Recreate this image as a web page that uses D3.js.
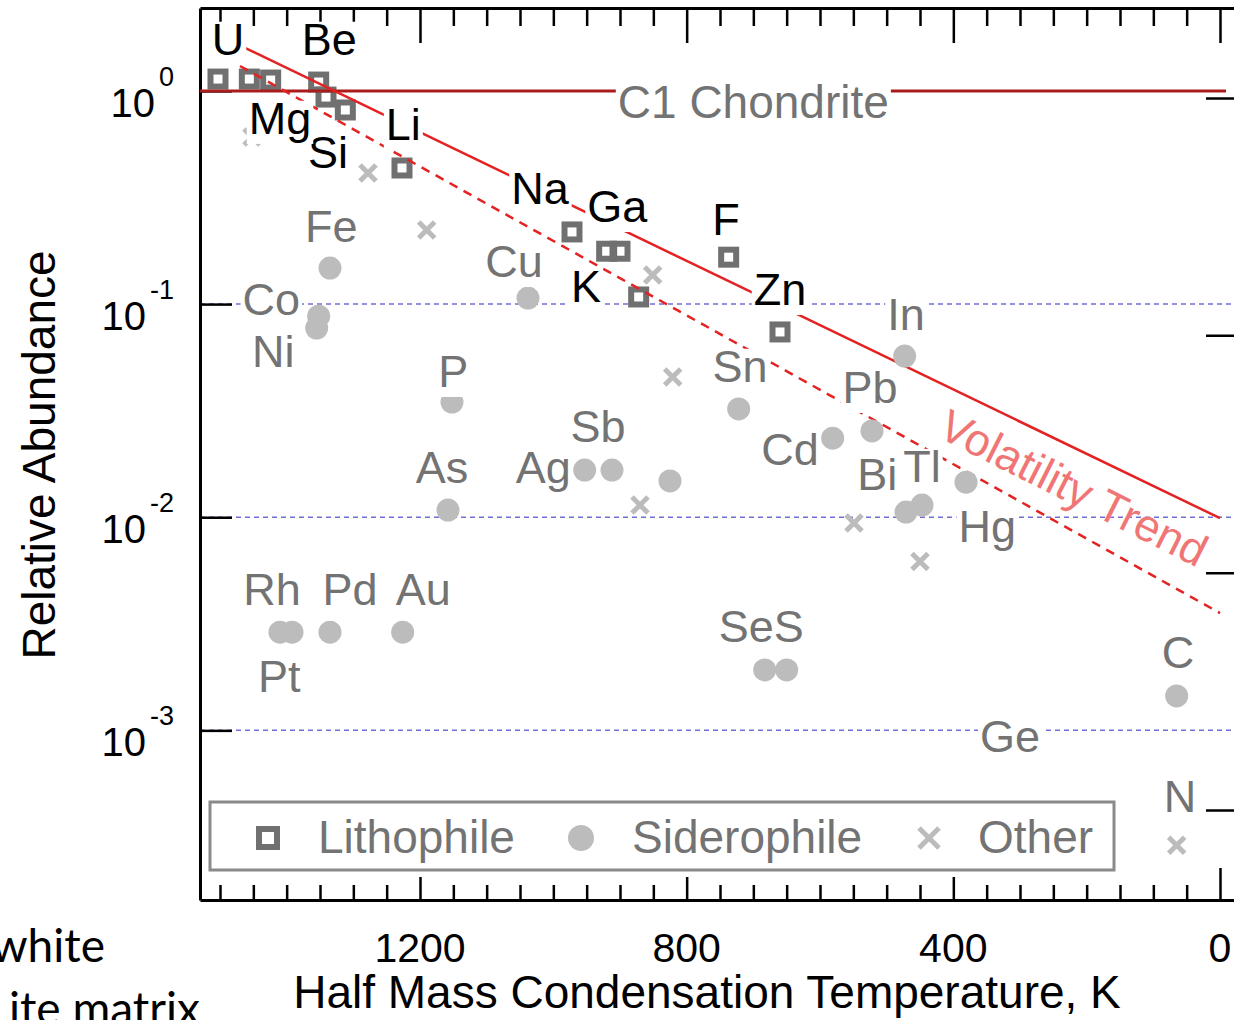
<!DOCTYPE html>
<html>
<head>
<meta charset="utf-8">
<script src="https://cdn.jsdelivr.net/npm/d3@7"></script>
<style>
body { margin: 0; background: #fff; }
svg { display: block; font-family: "Liberation Sans", Arial, Helvetica, sans-serif; }
</style>
</head>
<body>
<svg id="chart" width="1234" height="1020"></svg>
<script>
// half mass condensation temperature (K) and abundance relative to C1 chondrite
var lithoT = [1503, 1456, 1424, 1352, 1341, 1312, 1227, 972, 920, 900, 872, 737, 660];
var lithoV = [1.137, 1.137, 1.125, 1.101, 0.936, 0.814, 0.435, 0.218, 0.177, 0.177, 0.108, 0.166, 0.074];
var sideroT = [1335, 1352, 1355, 1038, 1152, 1158, 953, 912, 825, 722, 581, 522, 473, 471, 447, 381, 1410, 1392, 1335, 1226, 683, 650, 65];
var sideroV = [0.1475, 0.0878, 0.0772, 0.1067, 0.0347, 0.0108, 0.01665, 0.01665, 0.0148, 0.0322, 0.0235, 0.0254, 0.057, 0.01057, 0.0114, 0.0146, 0.00289, 0.00289, 0.00289, 0.00289, 0.00192, 0.00192, 0.00145];
var otherT = [1452, 1278, 1190, 851, 821, 870, 549, 450, 65];
var otherV = [0.608, 0.412, 0.2225, 0.1368, 0.0455, 0.0114, 0.0094, 0.0062, 0.000289];

// element labels: name, temperature, abundance (baseline centre), dark text
var labels = [
  ["U", 1488, 1.474, 1], ["Be", 1336, 1.474, 1], ["Si", 1338, 0.4346, 1], ["Mg", 1410, 0.628, 1],
  ["Li", 1225, 0.588, 1], ["Na", 1020, 0.2945, 1], ["Ga", 904, 0.2425, 1], ["F", 741, 0.2108, 1],
  ["K", 951, 0.1022, 1], ["Zn", 660, 0.0989, 1],
  ["Fe", 1333, 0.1954, 0], ["Co", 1423, 0.0888, 0], ["Ni", 1420, 0.0506, 0], ["Cu", 1059, 0.1338, 0],
  ["P", 1150, 0.0408, 0], ["As", 1167, 0.01445, 0], ["Ag", 1015, 0.01445, 0], ["Sb", 933, 0.02251, 0],
  ["Sn", 720, 0.04305, 0], ["Pb", 525, 0.0343, 0], ["Cd", 645, 0.01755, 0], ["Bi", 514, 0.0134, 0],
  ["Tl", 447, 0.01461, 0], ["In", 471, 0.0755, 0], ["Hg", 349, 0.00764, 0],
  ["Rh", 1422, 0.003869, 0], ["Pd", 1305, 0.003869, 0], ["Au", 1195, 0.003869, 0], ["Pt", 1411, 0.001511, 0],
  ["SeS", 688, 0.002594, 0], ["C", 63, 0.001958, 0], ["Ge", 315, 0.00079, 0], ["N", 60, 0.000413, 0]
];

var chondrite = [[1530, 1], [-9, 1]];
var trendSolid = [[1465, 1.607], [0, 0.0099]];
var trendDashed = [[1470, 1.309], [0, 0.00355]];
var chondriteLabel = ["C1 Chondrite", 700, 0.7454];
var trendLabel = ["Volatility Trend", 230, 0.0118];

var xTicks = d3.range(0, 1501, 50);
var xMajor = [0, 400, 800, 1200];
var yTicks = [1, 0.1, 0.01, 0.001];
var yExp = ["0", "-1", "-2", "-3"];
var gridValues = [0.1, 0.01, 0.001];
var rightTicks = [0, 1, 2, 3];
var legendNames = ["Lithophile", "Siderophile", "Other"];

var svg = d3.select("#chart");
var x = d3.scaleLinear().domain([1530, -30]).range([200, 1240]);
var y = d3.scaleLog().domain([1.6e-4, 2.45]).range([900, 8]);
var yRight = d3.scaleLinear().domain([0, 3]).range([98, 810]);

var grey = "#737373";
var light = "#bcbcbc";

// dotted grid
svg.append("g").selectAll("line").data(gridValues).join("line")
  .attr("x1", x(1530)).attr("x2", x(-30))
  .attr("y1", function (d) { return y(d); }).attr("y2", function (d) { return y(d); })
  .attr("stroke", "#6f6fd8").attr("stroke-width", 1.5).attr("stroke-dasharray", "5,4");

// axes, ticks pointing inwards
var topAxis = svg.append("g").attr("transform", "translate(0,8)")
  .call(d3.axisBottom(x).tickValues(xTicks).tickSize(18).tickSizeOuter(0).tickFormat(""));
topAxis.selectAll(".tick line").attr("y2", function (d) { return xMajor.indexOf(d) >= 0 ? 35 : 18; });

var bottomAxis = svg.append("g").attr("transform", "translate(0,900)")
  .call(d3.axisTop(x).tickValues(xTicks).tickSize(15).tickSizeOuter(0).tickFormat(""));
bottomAxis.selectAll(".tick line").attr("y2", function (d) { return d === 0 ? -32 : (xMajor.indexOf(d) >= 0 ? -23 : -15); });

var leftAxis = svg.append("g").attr("transform", "translate(200,0)")
  .call(d3.axisRight(y).tickValues(yTicks).tickSize(32).tickSizeOuter(0).tickFormat(""));

var rightAxis = svg.append("g").attr("transform", "translate(1240,0)")
  .call(d3.axisLeft(yRight).tickValues(rightTicks).tickSize(34).tickSizeOuter(0).tickFormat(""));
rightAxis.select(".domain").attr("d", "M0.5,8V900");

svg.selectAll(".domain").attr("stroke", "#000").attr("stroke-width", 3);
svg.selectAll(".tick line").attr("stroke", "#000").attr("stroke-width", 2.5);

// tick labels
svg.append("g").selectAll("text").data(xMajor).join("text")
  .attr("x", function (d) { return x(d); }).attr("y", 962)
  .attr("text-anchor", "middle").attr("font-size", 41).attr("fill", "#000")
  .text(function (d) { return d; });

var yl = svg.append("g").selectAll("text").data(yTicks).join("text")
  .attr("x", 174).attr("y", function (d) { return y(d) + 26; })
  .attr("text-anchor", "end").attr("fill", "#000");
yl.append("tspan").attr("font-size", 40).text("10");
yl.append("tspan").attr("font-size", 27).attr("dx", 4).attr("dy", -31)
  .text(function (d, i) { return yExp[i]; });

// axis titles
svg.append("text").attr("x", 707).attr("y", 1008).attr("text-anchor", "middle")
  .attr("font-size", 46).attr("fill", "#000").text("Half Mass Condensation Temperature, K");
svg.append("text").attr("transform", "translate(55,455) rotate(-90)").attr("text-anchor", "middle")
  .attr("font-size", 46).attr("fill", "#000").text("Relative Abundance");

// lithophile squares sit under the trend lines
svg.append("g").selectAll("rect").data(lithoT).join("rect")
  .attr("x", function (d) { return x(d) - 7.5; })
  .attr("y", function (d, i) { return y(lithoV[i]) - 7.5; })
  .attr("width", 15).attr("height", 15)
  .attr("fill", "none").attr("stroke", "#707070").attr("stroke-width", 6);

var line = d3.line().x(function (d) { return x(d[0]); }).y(function (d) { return y(d[1]); });
svg.append("path").datum(chondrite).attr("d", line)
  .attr("fill", "none").attr("stroke", "#a81c1c").attr("stroke-width", 3);
svg.append("path").datum(trendSolid).attr("d", line)
  .attr("fill", "none").attr("stroke", "#e42222").attr("stroke-width", 2.5);
svg.append("path").datum(trendDashed).attr("d", line)
  .attr("fill", "none").attr("stroke", "#e42222").attr("stroke-width", 2.5).attr("stroke-dasharray", "9,7");

svg.append("g").selectAll("circle").data(sideroT).join("circle")
  .attr("cx", function (d) { return x(d); })
  .attr("cy", function (d, i) { return y(sideroV[i]); })
  .attr("r", 11.5).attr("fill", light);

svg.append("g").selectAll("path").data(otherT).join("path")
  .attr("transform", function (d, i) { return "translate(" + x(d) + "," + y(otherV[i]) + ")"; })
  .attr("d", "M-8,-8L8,8M-8,8L8,-8")
  .attr("stroke", light).attr("stroke-width", 5).attr("fill", "none");

// labels with white boxes behind them
function boxedLabel(g, txt, t, v, size, colour) {
  var lg = g.append("g");
  var r = lg.append("rect").attr("fill", "#fff");
  var tx = lg.append("text").attr("x", x(t)).attr("y", y(v))
    .attr("text-anchor", "middle").attr("font-size", size).attr("fill", colour).text(txt);
  var bb = tx.node().getBBox();
  r.attr("x", bb.x - 2).attr("width", bb.width + 4)
    .attr("y", y(v) - 0.74 * size).attr("height", 0.96 * size);
}
var labelLayer = svg.append("g");
labels.forEach(function (d) {
  boxedLabel(labelLayer, d[0], d[1], d[2], 45, d[3] ? "#000" : grey);
});
boxedLabel(labelLayer, chondriteLabel[0], chondriteLabel[1], chondriteLabel[2], 46, grey);

var angle = Math.atan2(y(trendSolid[1][1]) - y(trendSolid[0][1]), x(trendSolid[1][0]) - x(trendSolid[0][0])) * 180 / Math.PI;
svg.append("text")
  .attr("transform", "translate(" + x(trendLabel[1]) + "," + y(trendLabel[2]) + ") rotate(" + (angle + 1) + ")")
  .attr("text-anchor", "middle").attr("font-size", 45).attr("fill", "#f07676")
  .text(trendLabel[0]);

// legend
var legend = svg.append("g");
legend.append("rect").attr("x", 210).attr("y", 802).attr("width", 904).attr("height", 68)
  .attr("fill", "#fff").attr("stroke", "#8a8a8a").attr("stroke-width", 3);
legend.append("rect").attr("x", 259).attr("y", 829).attr("width", 18).attr("height", 18)
  .attr("fill", "none").attr("stroke", "#707070").attr("stroke-width", 6);
legend.append("circle").attr("cx", 581).attr("cy", 838).attr("r", 13).attr("fill", light);
legend.append("path").attr("transform", "translate(929,838)").attr("d", "M-10,-10L10,10M-10,10L10,-10")
  .attr("stroke", light).attr("stroke-width", 5);
legend.selectAll("text").data(legendNames).join("text")
  .attr("x", function (d, i) { return [318, 632, 978][i]; }).attr("y", 853)
  .attr("font-size", 46).attr("fill", grey)
  .text(function (d) { return d; });

// slide text peeking in from the left
svg.append("text").attr("x", 105).attr("y", 962).attr("text-anchor", "end")
  .attr("font-family", "Lato, 'Open Sans', sans-serif").attr("font-size", 46).attr("fill", "#000").text("white");
svg.append("text").attr("x", 200).attr("y", 1025).attr("text-anchor", "end")
  .attr("font-family", "Lato, 'Open Sans', sans-serif").attr("font-size", 46).attr("fill", "#000").text("ite matrix");
</script>
</body>
</html>
